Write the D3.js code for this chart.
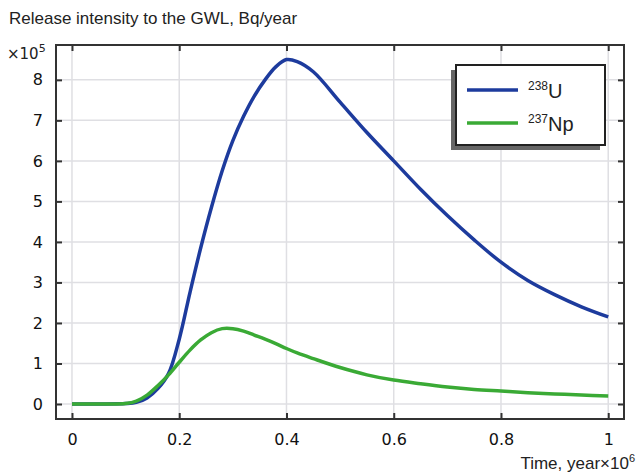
<!DOCTYPE html>
<html lang="en">
<head>
<meta charset="UTF-8">
<title></title>
<script src="https://d3js.org/d3.v7.min.js"></script>
<style>
  body { margin: 0; background: #fff; }
</style>
</head>
<body>
<script>
    // release intensity curves, values in units of 1e5 Bq/year, time in 1e6 years
    var time = [0, 0.05, 0.1, 0.12, 0.14, 0.16, 0.18, 0.2, 0.22, 0.24, 0.26, 0.28, 0.3, 0.32, 0.34, 0.36, 0.38, 0.4,
                0.42, 0.45, 0.5, 0.55, 0.6, 0.65, 0.7, 0.75, 0.8, 0.85, 0.9, 0.95, 1.0];
    var u238 = [0, 0, 0.01, 0.04, 0.15, 0.38, 0.75, 1.6, 2.75, 3.85, 4.85, 5.75, 6.5, 7.1, 7.6, 8.0, 8.32, 8.5,
                8.45, 8.2, 7.45, 6.7, 6.0, 5.3, 4.65, 4.05, 3.5, 3.05, 2.7, 2.4, 2.15];
    var np237 = [0, 0, 0.01, 0.07, 0.22, 0.45, 0.72, 1.03, 1.33, 1.58, 1.76, 1.86, 1.86, 1.8, 1.7, 1.6, 1.49, 1.37,
                 1.26, 1.12, 0.9, 0.72, 0.59, 0.5, 0.42, 0.36, 0.32, 0.28, 0.25, 0.22, 0.2];
    var xTicks = [0, 0.2, 0.4, 0.6, 0.8, 1];
    var yTicks = [0, 1, 2, 3, 4, 5, 6, 7, 8];
    var series = [
        {name: "U", iso: "238", values: u238, color: "#1d3b9d"},
        {name: "Np", iso: "237", values: np237, color: "#3aaa35"}
    ];

    var width = 637, height = 472;
    var pL = 56, pR = 624, pT = 45, pB = 419;

    var svg = d3.select("body").append("svg")
            .attr("width", width)
            .attr("height", height);

    var x = d3.scaleLinear().domain([-0.0298, 1.0294]).range([pL, pR]);
    var y = d3.scaleLinear().domain([-0.37, 8.86]).range([pB, pT]);

    // grid
    svg.append("g").selectAll("line").data(xTicks).enter().append("line")
            .attr("x1", d => x(d)).attr("x2", d => x(d))
            .attr("y1", pT).attr("y2", pB)
            .attr("stroke", "#dfdfe3").attr("stroke-width", 1.5);
    svg.append("g").selectAll("line").data(yTicks).enter().append("line")
            .attr("x1", pL).attr("x2", pR)
            .attr("y1", d => y(d)).attr("y2", d => y(d))
            .attr("stroke", "#dfdfe3").attr("stroke-width", 1.5);

    // axes, ticks pointing inward, mirrored on top and right
    var tickFont = "DejaVu Sans, sans-serif";
    function styleAxis(g) {
        g.select(".domain").remove();
        g.selectAll(".tick line").attr("stroke", "#333").attr("stroke-width", 2);
        g.selectAll(".tick text").attr("fill", "#111").attr("font-family", tickFont).attr("font-size", 16);
    }
    svg.append("g").attr("transform", "translate(0," + pB + ")")
            .call(d3.axisBottom(x).tickValues(xTicks).tickSize(-6).tickPadding(15).tickFormat(d3.format("~g")))
            .call(styleAxis);
    svg.append("g").attr("transform", "translate(" + pL + ",0)")
            .call(d3.axisLeft(y).tickValues(yTicks).tickSize(-6).tickPadding(13).tickFormat(d3.format("d")))
            .call(styleAxis);
    svg.append("g").attr("transform", "translate(0," + pT + ")")
            .call(d3.axisTop(x).tickValues(xTicks).tickSize(-6).tickFormat(""))
            .call(styleAxis);
    svg.append("g").attr("transform", "translate(" + pR + ",0)")
            .call(d3.axisRight(y).tickValues(yTicks).tickSize(-6).tickFormat(""))
            .call(styleAxis);

    // curves
    var line = d3.line()
            .x((d, i) => x(time[i]))
            .y(d => y(d))
            .curve(d3.curveCatmullRom.alpha(0.5));
    svg.append("g").selectAll("path").data(series).enter().append("path")
            .attr("d", d => line(d.values))
            .attr("fill", "none")
            .attr("stroke", d => d.color)
            .attr("stroke-width", 3.5)
            .attr("stroke-linejoin", "round");

    // frame
    svg.append("rect")
            .attr("x", pL).attr("y", pT)
            .attr("width", pR - pL).attr("height", pB - pT)
            .attr("fill", "none").attr("stroke", "#333").attr("stroke-width", 2);

    // legend with shadow
    var lg = svg.append("g").attr("transform", "translate(456,65)");
    lg.append("rect").attr("x", -5).attr("y", 5).attr("width", 149).attr("height", 80).attr("fill", "#666");
    lg.append("rect").attr("x", 0).attr("y", 0).attr("width", 149).attr("height", 80)
            .attr("fill", "#fff").attr("stroke", "#222").attr("stroke-width", 2);
    var item = lg.selectAll("g.item").data(series).enter().append("g")
            .attr("transform", (d, i) => "translate(0," + (25 + i * 33) + ")");
    item.append("line").attr("x1", 11).attr("x2", 62).attr("y1", 0).attr("y2", 0)
            .attr("stroke", d => d.color).attr("stroke-width", 3.5);
    var lt = item.append("text").attr("x", 72).attr("y", 8)
            .attr("font-family", "Liberation Sans, Arial, sans-serif").attr("fill", "#222");
    lt.append("tspan").attr("font-size", 12).attr("dy", -8).text(d => d.iso);
    lt.append("tspan").attr("font-size", 20).attr("dy", 8).text(d => d.name);

    // titles
    svg.append("text").attr("x", 9).attr("y", 24)
            .attr("font-family", "Liberation Sans, Arial, sans-serif").attr("font-size", 17).attr("fill", "#222")
            .text("Release intensity to the GWL, Bq/year");
    var ym = svg.append("text").attr("x", 7).attr("y", 59)
            .attr("font-family", tickFont).attr("font-size", 15).attr("fill", "#222");
    ym.append("tspan").text("×10");
    ym.append("tspan").attr("font-size", 11).attr("dy", -7).text("5");
    var xm = svg.append("text").attr("x", 635).attr("y", 469).attr("text-anchor", "end")
            .attr("font-family", "Liberation Sans, Arial, sans-serif").attr("font-size", 17).attr("fill", "#222");
    xm.append("tspan").text("Time, year×10");
    xm.append("tspan").attr("font-size", 11).attr("dy", -7).text("6");
</script>
</body>
</html>
